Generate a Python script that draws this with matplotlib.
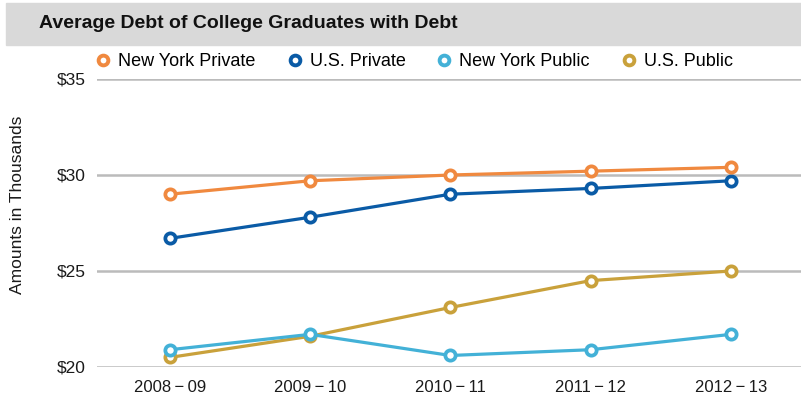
import matplotlib
matplotlib.use("Agg")
import matplotlib.pyplot as plt
from matplotlib.patches import Rectangle
from matplotlib.lines import Line2D

plt.rcParams['font.family'] = ['Liberation Sans', 'DejaVu Sans']

years = ["2008\u2009\u2212\u200909", "2009\u2009\u2212\u200910", "2010\u2009\u2212\u200911",
         "2011\u2009\u2212\u200912", "2012\u2009\u2212\u200913"]
ny_private = [29.0, 29.7, 30.0, 30.2, 30.4]
us_private = [26.7, 27.8, 29.0, 29.3, 29.7]
ny_public = [20.9, 21.7, 20.6, 20.9, 21.7]
us_public = [20.5, 21.6, 23.1, 24.5, 25.0]
yticks = [20, 25, 30, 35]

c_nypriv = "#F0893F"
c_uspriv = "#0A5BA6"
c_nypub = "#43B1D7"
c_uspub = "#C9A13B"

fig = plt.figure(figsize=(8.01, 4.04), dpi=100)
ax = fig.add_axes([97/801, 1-367/404, 1-97/801, (367-79)/404])

# title bar
fig.patches.append(Rectangle((6/801, 1-45/404), 795/801, 42/404,
                             transform=fig.transFigure, color="#D9D9D9", zorder=0))
fig.text(39/801, 1-24/404, "Average Debt of College Graduates with Debt",
         fontsize=14, fontweight="bold", va="center", ha="left", color="#111111")

x = range(len(years))
series = [(us_public, c_uspub), (ny_public, c_nypub), (us_private, c_uspriv), (ny_private, c_nypriv)]
for vals, col in series:
    ax.plot(x, vals, color=col, lw=2.3, marker="o", ms=7.4, mfc="white",
            mec=col, mew=2.7, zorder=3, clip_on=False)

ax.set_xlim(-0.52, 4.5)
ax.set_ylim(20, 35)
ax.set_yticks(yticks)
ax.set_yticklabels(["$%d" % v for v in yticks])
ax.set_xticks(list(x))
ax.set_xticklabels(years)
ax.grid(axis="y", color="#BBBBBB", lw=1.8)
ax.set_axisbelow(True)
for s in ax.spines.values():
    s.set_visible(False)
ax.tick_params(length=0, labelsize=12.5, colors="#1a1a1a")
ax.tick_params(axis="x", labelsize=12, pad=9)
ax.tick_params(axis="y", pad=8)

fig.text(18/801, 1-205/404, "Amounts in Thousands", rotation=90,
         fontsize=12.5, va="center", ha="center", color="#1a1a1a")

labels = ["New York Private", "U.S. Private", "New York Public", "U.S. Public"]
cols = [c_nypriv, c_uspriv, c_nypub, c_uspub]
handles = [Line2D([], [], ls="none", marker="o", ms=7, mfc="white", mec=c, mew=2.8) for c in cols]
fig.legend(handles, labels, ncol=4, loc="center left", bbox_to_anchor=(96/801, 1-62/404),
           frameon=False, fontsize=13, handlelength=0.8, handletextpad=0.43,
           columnspacing=1.76, borderaxespad=0, borderpad=0)

fig.savefig("out.png", dpi=100)
